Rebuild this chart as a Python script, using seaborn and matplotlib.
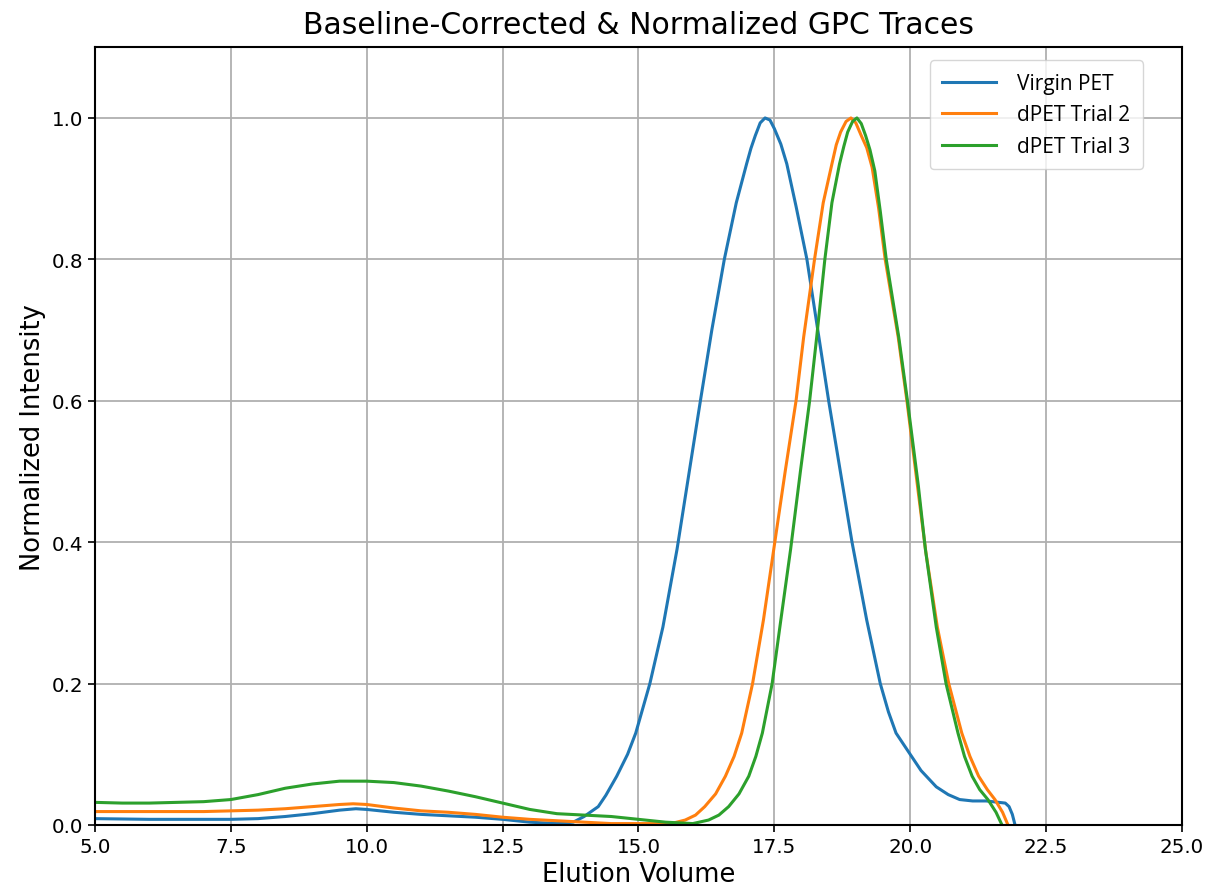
import pandas as pd
import seaborn as sns
import matplotlib
matplotlib.use("Agg")
import matplotlib.pyplot as plt

# Valores (volume de eluição, intensidade normalizada)
virgin_x = [5.0, 6.0, 7.0, 7.5, 8.0, 8.5, 9.0, 9.5, 9.8, 10.0, 10.5, 11.0, 11.5, 12.0,
            12.5, 13.0, 13.5, 13.8, 14.0, 14.26, 14.4, 14.6, 14.8, 14.95, 15.21, 15.45,
            15.71, 16.14, 16.35, 16.58, 16.8, 16.99, 17.07, 17.15, 17.24, 17.33, 17.42,
            17.5, 17.62, 17.73, 17.9, 18.1, 18.3, 18.5, 18.93, 19.2, 19.45, 19.6, 19.74,
            19.87, 20.0, 20.2, 20.48, 20.7, 20.91, 21.15, 21.4, 21.75, 21.82, 21.88, 21.93]
virgin_y = [0.009, 0.008, 0.008, 0.008, 0.009, 0.012, 0.016, 0.021, 0.023, 0.022, 0.018,
            0.015, 0.013, 0.011, 0.008, 0.004, 0.002, 0.004, 0.012, 0.026, 0.042, 0.069,
            0.10, 0.13, 0.2, 0.28, 0.39, 0.6, 0.70, 0.8, 0.88, 0.935, 0.957, 0.975, 0.993,
            1.0, 0.997, 0.985, 0.963, 0.935, 0.875, 0.8, 0.70, 0.6, 0.4, 0.29, 0.2, 0.16,
            0.13, 0.115, 0.10, 0.077, 0.054, 0.043, 0.036, 0.034, 0.034, 0.031, 0.026,
            0.015, 0.0]

trial2_x = [5.0, 6.0, 7.0, 7.5, 8.0, 8.5, 9.0, 9.5, 9.75, 10.0, 10.5, 11.0, 11.5, 12.0,
            12.5, 13.0, 13.5, 14.0, 14.5, 15.0, 15.6, 15.86, 16.05, 16.22, 16.42, 16.6,
            16.76, 16.9, 17.1, 17.3, 17.49, 17.7, 17.9, 18.04, 18.24, 18.4, 18.56, 18.64,
            18.72, 18.82, 18.91, 19.0, 19.1, 19.2, 19.3, 19.42, 19.54, 19.78, 19.94, 20.15,
            20.29, 20.5, 20.71, 20.95, 21.1, 21.26, 21.42, 21.56, 21.7, 21.8]
trial2_y = [0.019, 0.019, 0.019, 0.020, 0.021, 0.023, 0.026, 0.029, 0.030, 0.029, 0.024,
            0.020, 0.018, 0.015, 0.011, 0.008, 0.006, 0.004, 0.002, 0.002, 0.002, 0.007,
            0.014, 0.026, 0.044, 0.069, 0.097, 0.13, 0.2, 0.29, 0.39, 0.5, 0.6, 0.69, 0.8,
            0.88, 0.935, 0.962, 0.98, 0.995, 1.0, 0.993, 0.975, 0.958, 0.93, 0.872, 0.8,
            0.69, 0.6, 0.47, 0.385, 0.28, 0.2, 0.13, 0.097, 0.069, 0.05, 0.036, 0.018, 0.0]

trial3_x = [5.0, 5.5, 6.0, 6.5, 7.0, 7.5, 8.0, 8.5, 9.0, 9.5, 10.0, 10.5, 11.0, 11.5,
            12.0, 12.5, 13.0, 13.5, 14.0, 14.5, 15.0, 15.5, 16.0, 16.29, 16.48, 16.66,
            16.85, 17.03, 17.16, 17.28, 17.46, 17.62, 17.8, 17.98, 18.15, 18.28, 18.43,
            18.56, 18.7, 18.78, 18.85, 18.94, 19.02, 19.1, 19.18, 19.26, 19.35, 19.45,
            19.56, 19.79, 19.95, 20.15, 20.28, 20.48, 20.66, 20.88, 21.0, 21.14, 21.28,
            21.43, 21.58, 21.69]
trial3_y = [0.032, 0.031, 0.031, 0.032, 0.033, 0.036, 0.043, 0.052, 0.058, 0.062, 0.062,
            0.060, 0.055, 0.048, 0.040, 0.031, 0.022, 0.016, 0.014, 0.012, 0.008, 0.004,
            0.002, 0.007, 0.014, 0.026, 0.044, 0.069, 0.097, 0.13, 0.2, 0.29, 0.39, 0.5,
            0.6, 0.69, 0.8, 0.88, 0.935, 0.96, 0.98, 0.995, 1.0, 0.992, 0.975, 0.955, 0.925,
            0.868, 0.8, 0.69, 0.6, 0.48, 0.39, 0.28, 0.2, 0.13, 0.097, 0.069, 0.05, 0.036,
            0.018, 0.0]

labels = ["Virgin PET", "dPET Trial 2", "dPET Trial 3"]
cores = ["#1f77b4", "#ff7f0e", "#2ca02c"]
x_ticks = [5.0, 7.5, 10.0, 12.5, 15.0, 17.5, 20.0, 22.5, 25.0]
y_ticks = [0.0, 0.2, 0.4, 0.6, 0.8, 1.0]

# Montar o DataFrame longo
df = pd.concat([
    pd.DataFrame({'volume': virgin_x, 'intensity': virgin_y, 'sample': labels[0]}),
    pd.DataFrame({'volume': trial2_x, 'intensity': trial2_y, 'sample': labels[1]}),
    pd.DataFrame({'volume': trial3_x, 'intensity': trial3_y, 'sample': labels[2]}),
], ignore_index=True)

fig = plt.figure(figsize=(12.06, 8.95), dpi=100)
ax = fig.add_axes([0.0788, 0.0771, 0.9012, 0.869])

sns.lineplot(data=df, x='volume', y='intensity', hue='sample', hue_order=labels,
             palette=cores, estimator=None, sort=False, linewidth=2.2, ax=ax)

ax.set_xlim(5, 25)
ax.set_ylim(0, 1.1)
ax.set_xticks(x_ticks)
ax.set_yticks(y_ticks)
ax.tick_params(labelsize=14.3, length=5, width=1.2)
ax.grid(True, color='#b0b0b0', linewidth=1.3)
for s in ax.spines.values():
    s.set_linewidth(1.5)

ax.set_title('Baseline-Corrected & Normalized GPC Traces', fontsize=21.5, pad=10)
ax.set_xlabel('Elution Volume', fontsize=18.5, labelpad=4)
ax.set_ylabel('Normalized Intensity', fontsize=18.5)

leg = ax.legend(loc='upper left', bbox_to_anchor=(0.768, 0.983), borderaxespad=0,
                handlelength=2.6, handletextpad=1.0, borderpad=0.6, title=None,
                prop={'family': 'Open Sans', 'size': 15})

# Salvar a figura
fig.savefig('out.png', dpi=100)
